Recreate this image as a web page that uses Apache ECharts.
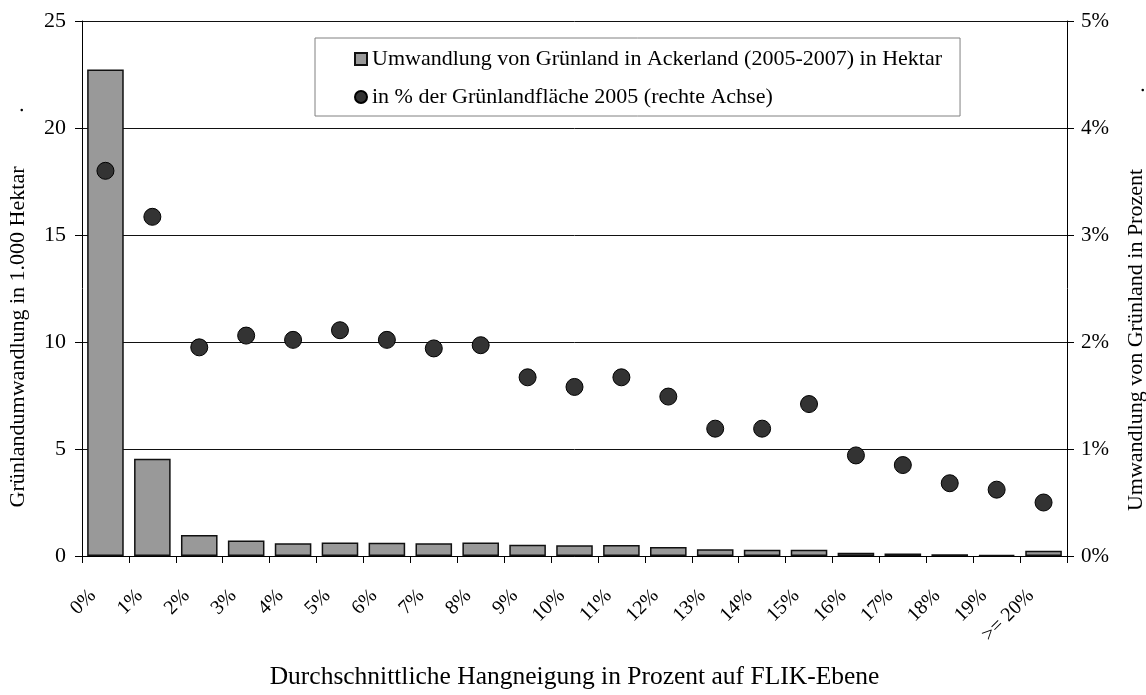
<!DOCTYPE html>
<html>
<head>
<meta charset="utf-8">
<script src="https://cdn.jsdelivr.net/npm/echarts@6/dist/echarts.min.js"></script>
<style>html,body{margin:0;padding:0;background:#fff;}#c{width:1146px;height:695px;}</style>
</head>
<body>
<div id="c"></div>
<script>
const categories = ['0%','1%','2%','3%','4%','5%','6%','7%','8%','9%','10%','11%','12%','13%','14%','15%','16%','17%','18%','19%','>= 20%'];
const hektar = [22.73, 4.54, 0.98, 0.72, 0.60, 0.63, 0.62, 0.60, 0.63, 0.53, 0.50, 0.51, 0.42, 0.32, 0.29, 0.29, 0.15, 0.12, 0.08, 0.05, 0.24];
const prozent = [3.60, 3.17, 1.95, 2.06, 2.02, 2.11, 2.02, 1.94, 1.97, 1.67, 1.58, 1.67, 1.49, 1.19, 1.19, 1.42, 0.94, 0.85, 0.68, 0.62, 0.50];
const leftTicks = [0, 5, 10, 15, 20, 25];
const rightTicks = [0, 1, 2, 3, 4, 5];

const FONT = 'Liberation Serif';
const chart = echarts.init(document.getElementById('c'), null, {renderer: 'canvas'});
chart.setOption({
  animation: false,
  backgroundColor: '#fff',
  textStyle: {fontFamily: FONT, color: '#000'},
  grid: {left: 82, right: 79, top: 21, bottom: 120},
  legend: {
    orient: 'vertical', left: 315, top: 38,
    padding: [10, 18, 8, 39], itemGap: 16,
    backgroundColor: '#fff', borderColor: '#808080', borderWidth: 1,
    itemWidth: 12, itemHeight: 12,
    textStyle: {fontFamily: FONT, fontSize: 22, color: '#000'},
    data: [
      {name: 'Umwandlung von Grünland in Ackerland (2005-2007) in Hektar', icon: 'rect'},
      {name: 'in % der Grünlandfläche 2005 (rechte Achse)', icon: 'circle'}
    ]
  },
  xAxis: {
    type: 'category', data: categories,
    boundaryGap: true,
    axisLine: {lineStyle: {color: '#000', width: 1}},
    axisTick: {show: true, length: 7, inside: false, lineStyle: {color: '#000'}},
    axisLabel: {rotate: 45, fontSize: 20, color: '#000', fontFamily: FONT, margin: 24, padding: [0, 18, 0, 0], interval: 0},
    name: 'Durchschnittliche Hangneigung in Prozent auf FLIK-Ebene',
    nameLocation: 'middle', nameGap: 108,
    nameTextStyle: {fontSize: 25.5, color: '#000', fontFamily: FONT}
  },
  yAxis: [
    {
      type: 'value', min: leftTicks[0], max: leftTicks[leftTicks.length - 1], interval: 5,
      axisLine: {show: true, lineStyle: {color: '#000'}},
      axisTick: {show: true, length: 7, lineStyle: {color: '#000'}},
      axisLabel: {fontSize: 22, color: '#000', fontFamily: FONT, margin: 16},
      splitLine: {show: true, lineStyle: {color: '#111', width: 1}}
    },
    {
      type: 'value', min: rightTicks[0], max: rightTicks[rightTicks.length - 1], interval: 1,
      position: 'right',
      axisLine: {show: true, lineStyle: {color: '#000'}},
      axisTick: {show: true, length: 7, lineStyle: {color: '#000'}},
      axisLabel: {fontSize: 21, color: '#000', fontFamily: FONT, margin: 14, formatter: v => v + '%'},
      splitLine: {show: false}
    }
  ],
  graphic: [
    {type: 'text', x: 18, y: 337, rotation: Math.PI / 2,
     style: {text: 'Grünlandumwandlung in 1.000 Hektar', font: '22px "' + FONT + '"', fill: '#000', align: 'center', verticalAlign: 'middle'}},
    {type: 'text', x: 17, y: 110, rotation: Math.PI / 2,
     style: {text: '.', font: '22px "' + FONT + '"', fill: '#000', align: 'center', verticalAlign: 'middle'}},
    {type: 'text', x: 1136, y: 340, rotation: Math.PI / 2,
     style: {text: 'Umwandlung von Grünland in Prozent', font: '22px "' + FONT + '"', fill: '#000', align: 'center', verticalAlign: 'middle'}},
    {type: 'text', x: 1138, y: 90, rotation: Math.PI / 2,
     style: {text: '.', font: '22px "' + FONT + '"', fill: '#000', align: 'center', verticalAlign: 'middle'}}
  ],
  series: [
    {
      name: 'Umwandlung von Grünland in Ackerland (2005-2007) in Hektar',
      type: 'bar', yAxisIndex: 0, data: hektar,
      barCategoryGap: '22%',
      itemStyle: {color: '#999999', borderColor: '#111', borderWidth: 1.5}
    },
    {
      name: 'in % der Grünlandfläche 2005 (rechte Achse)',
      type: 'scatter', yAxisIndex: 1, data: prozent,
      symbol: 'circle', symbolSize: 17,
      itemStyle: {color: '#333333', borderColor: '#000', borderWidth: 1, opacity: 1}
    }
  ]
});
</script>
</body>
</html>
